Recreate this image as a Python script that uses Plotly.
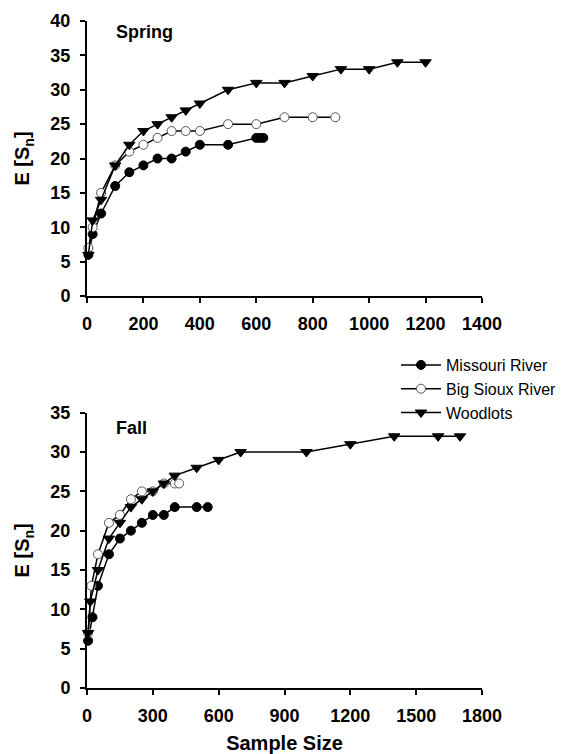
import plotly.graph_objects as go

# Spring data
spring_missouri_x = [5, 20, 50, 100, 150, 200, 250, 300, 350, 400, 500, 600, 612, 625]
spring_missouri_y = [6, 9, 12, 16, 18, 19, 20, 20, 21, 22, 22, 23, 23, 23]
spring_sioux_x = [5, 20, 50, 100, 150, 200, 250, 300, 350, 400, 500, 600, 700, 800, 880]
spring_sioux_y = [7, 10, 15, 19, 21, 22, 23, 24, 24, 24, 25, 25, 26, 26, 26]
spring_wood_x = [5, 20, 50, 100, 150, 200, 250, 300, 350, 400, 500, 600, 700, 800, 900, 1000, 1100, 1200]
spring_wood_y = [6, 11, 14, 19, 22, 24, 25, 26, 27, 28, 30, 31, 31, 32, 33, 33, 34, 34]

# Fall data
fall_missouri_x = [5, 25, 50, 100, 150, 200, 250, 300, 350, 400, 500, 550]
fall_missouri_y = [6, 9, 13, 17, 19, 20, 21, 22, 22, 23, 23, 23]
fall_sioux_x = [5, 20, 50, 100, 150, 200, 250, 300, 350, 400, 420]
fall_sioux_y = [7, 13, 17, 21, 22, 24, 25, 25, 26, 26, 26]
fall_wood_x = [5, 15, 50, 100, 150, 200, 250, 300, 350, 400, 500, 600, 700, 1000, 1200, 1400, 1600, 1700]
fall_wood_y = [7, 11, 15, 19, 21, 23, 24, 25, 26, 27, 28, 29, 30, 30, 31, 32, 32, 32]

spring_xticks = [0, 200, 400, 600, 800, 1000, 1200, 1400]
spring_yticks = [0, 5, 10, 15, 20, 25, 30, 35, 40]
fall_xticks = [0, 300, 600, 900, 1200, 1500, 1800]
fall_yticks = [0, 5, 10, 15, 20, 25, 30, 35]

series_names = ["Missouri River", "Big Sioux River", "Woodlots"]

W, H = 566, 754
FONT = "Liberation Sans, Arial, sans-serif"

fig = go.Figure()

styles = [
    dict(symbol="circle", size=9, color="black", line=dict(color="black", width=1)),
    dict(symbol="circle", size=9, color="white", line=dict(color="#555", width=1)),
    dict(symbol="triangle-down", size=10, color="black", line=dict(color="black", width=1)),
]

spring = [(spring_missouri_x, spring_missouri_y), (spring_sioux_x, spring_sioux_y), (spring_wood_x, spring_wood_y)]
fall = [(fall_missouri_x, fall_missouri_y), (fall_sioux_x, fall_sioux_y), (fall_wood_x, fall_wood_y)]

for i, (x, y) in enumerate(spring):
    fig.add_trace(go.Scatter(x=x, y=y, mode="lines+markers", name=series_names[i],
                             line=dict(color="black", width=1.5), marker=styles[i],
                             xaxis="x", yaxis="y", showlegend=False, cliponaxis=False))
for i, (x, y) in enumerate(fall):
    fig.add_trace(go.Scatter(x=x, y=y, mode="lines+markers", name=series_names[i],
                             line=dict(color="black", width=1.5), marker=styles[i],
                             xaxis="x2", yaxis="y2", showlegend=True, cliponaxis=False))

xdom = [87 / W, 482 / W]
ydom1 = [1 - 296 / H, 1 - 21 / H]
ydom2 = [1 - 688 / H, 1 - 412.7 / H]

tickfont = dict(family=FONT, size=18, color="black", weight="bold")
common_axis = dict(showgrid=False, zeroline=False, showline=True, linecolor="black", linewidth=2,
                   ticks="outside", ticklen=5, tickwidth=2, tickcolor="black",
                   tickfont=tickfont, automargin=False)
titlefont = dict(family=FONT, size=20, weight="bold", color="black")

fig.update_layout(
    width=W, height=H,
    margin=dict(l=0, r=0, t=0, b=0),
    paper_bgcolor="white", plot_bgcolor="white",
    font=dict(family=FONT, color="black"),
    xaxis=dict(domain=xdom, range=[0, 1400], tickvals=spring_xticks, anchor="y",
               ticklabelstandoff=5, **common_axis),
    yaxis=dict(domain=ydom1, range=[0, 40], tickvals=spring_yticks, anchor="x",
               ticklabelstandoff=6, title=dict(text="E [S<sub>n</sub>]", font=titlefont),
               **common_axis),
    xaxis2=dict(domain=xdom, range=[0, 1800], tickvals=fall_xticks, anchor="y2",
                ticklabelstandoff=5, title=dict(text="Sample Size", font=titlefont),
                **common_axis),
    yaxis2=dict(domain=ydom2, range=[0, 35], tickvals=fall_yticks, anchor="x2",
                ticklabelstandoff=6, title=dict(text="E [S<sub>n</sub>]", font=titlefont),
                **common_axis),
    legend=dict(x=396 / W, y=1 - 348 / H, xanchor="left", yanchor="top",
                font=dict(family=FONT, size=16, color="black"),
                bgcolor="rgba(0,0,0,0)", tracegroupgap=0, itemwidth=40),
    showlegend=True,
    annotations=[
        dict(text="<b>Spring</b>", x=114 / W, y=1 - 32 / H, xref="paper", yref="paper",
             xanchor="left", yanchor="middle", showarrow=False, font=dict(family=FONT, size=18)),
        dict(text="<b>Fall</b>", x=114 / W, y=1 - 428 / H, xref="paper", yref="paper",
             xanchor="left", yanchor="middle", showarrow=False, font=dict(family=FONT, size=18)),
    ],
)

fig.write_html("out.html", config={"displayModeBar": False},
               post_script="document.body.style.margin='0';")
